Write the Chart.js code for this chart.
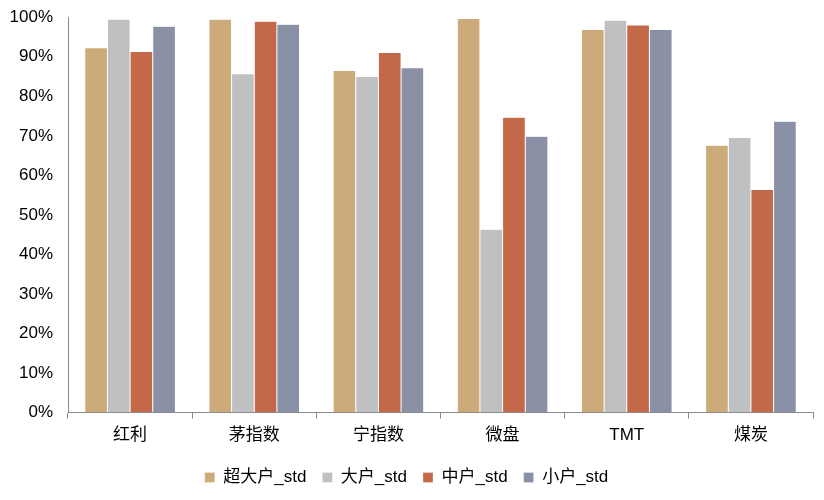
<!DOCTYPE html>
<html>
<head>
<meta charset="utf-8">
<script src="https://cdn.jsdelivr.net/npm/chart.js@4/dist/chart.umd.min.js"></script>
<style>
  html, body { margin: 0; padding: 0; background: #fff; }
  #wrap { width: 824px; height: 500px; }
</style>
</head>
<body>
<div id="wrap"><canvas id="myChart" width="824" height="500"></canvas></div>
<script>
const categories = ['红利', '茅指数', '宁指数', '微盘', 'TMT', '煤炭'];
const seriesNames = ['超大户_std', '大户_std', '中户_std', '小户_std'];
const superLarge = [0.923, 0.995, 0.865, 0.997, 0.969, 0.676];
const large = [0.995, 0.857, 0.850, 0.464, 0.992, 0.696];
const medium = [0.913, 0.990, 0.911, 0.747, 0.980, 0.564];
const small = [0.977, 0.982, 0.872, 0.699, 0.969, 0.737];
const colors = ['#CCAA7A', '#BFC0C2', '#C4684A', '#8A90A6'];

const fontFamily = '"Liberation Sans", Arial, "Noto Sans CJK SC", sans-serif';

const ctx = document.getElementById('myChart');

new Chart(ctx, {
    type: 'bar',
    data: {
        labels: categories,
        datasets: [superLarge, large, medium, small].map((vals, i) => ({
            label: seriesNames[i],
            data: vals,
            backgroundColor: colors[i],
            borderColor: 'rgba(255,255,255,0.6)',
            borderWidth: 0.5,
            categoryPercentage: 0.73,
            barPercentage: 1.0
        }))
    },
    options: {
        responsive: false,
        animation: false,
        layout: { padding: { top: 12, right: 11, left: 0, bottom: 4 } },
        plugins: {
            legend: {
                position: 'bottom',
                labels: {
                    boxWidth: 10,
                    boxHeight: 10,
                    color: '#000',
                    padding: 16,
                    font: { family: fontFamily, size: 17 }
                }
            },
            tooltip: { enabled: false }
        },
        scales: {
            x: {
                grid: {
                    offset: true,
                    drawOnChartArea: false,
                    drawTicks: true,
                    tickLength: 6,
                    color: '#888'
                },
                border: { color: '#888', width: 1 },
                ticks: {
                    color: '#000',
                    padding: 7,
                    font: { family: fontFamily, size: 17 }
                }
            },
            y: {
                min: 0,
                max: 1,
                grid: { display: false },
                border: { color: '#888', width: 1 },
                afterFit: function (scale) { scale.width = 68; },
                ticks: {
                    stepSize: 0.1,
                    color: '#000',
                    padding: 7,
                    font: { family: fontFamily, size: 17 },
                    callback: function (v) { return Math.round(v * 100) + '%'; }
                }
            }
        }
    }
});
</script>
</body>
</html>
